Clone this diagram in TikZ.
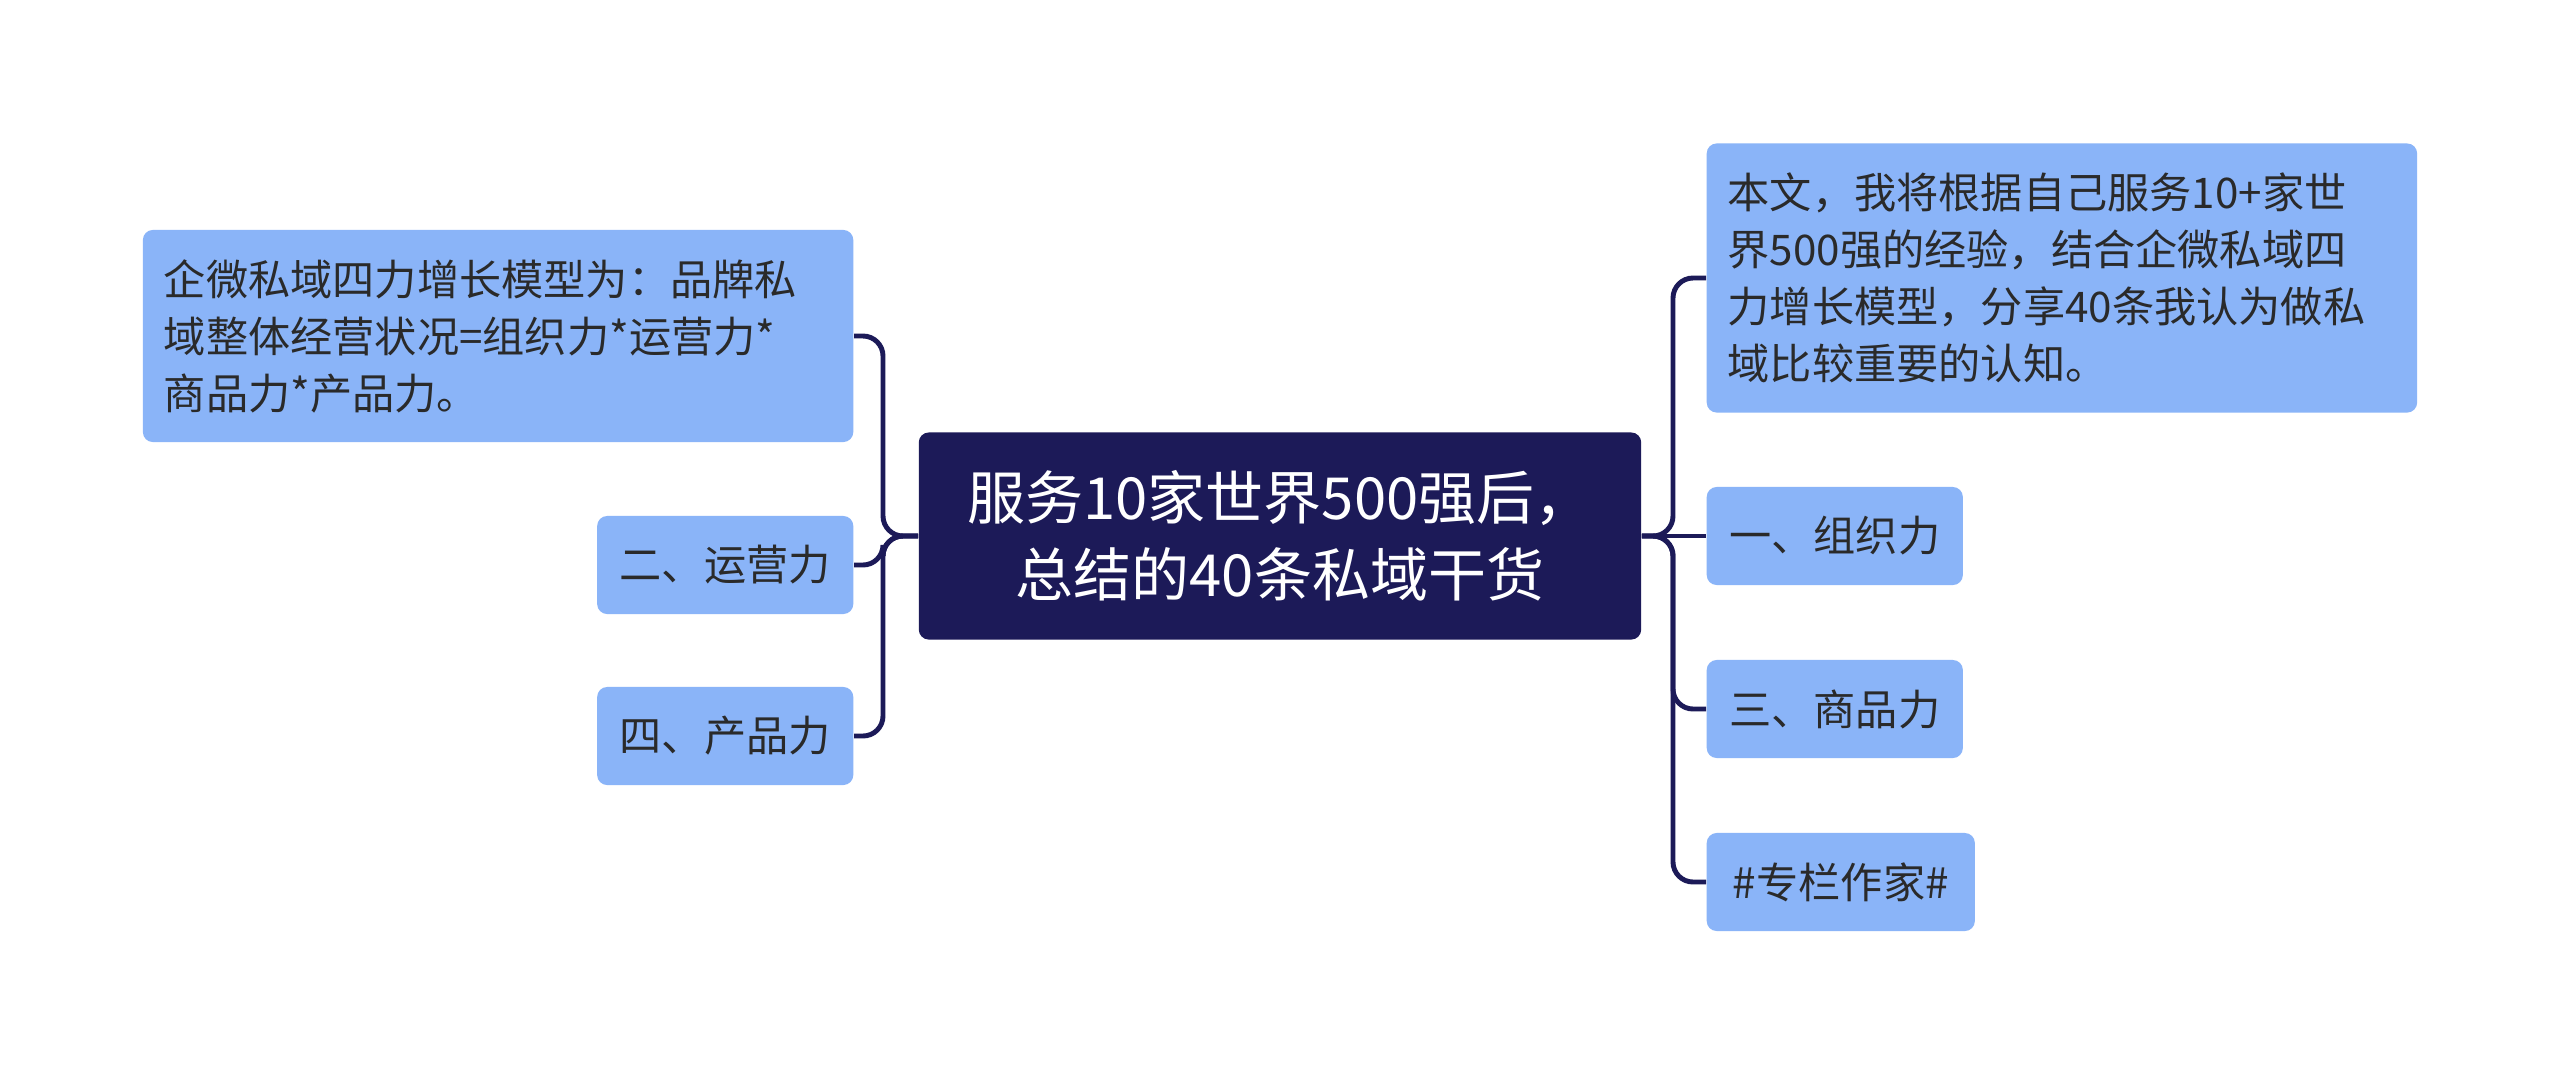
\documentclass[tikz,border=0pt]{standalone}
\usepackage{fontspec}
\setmainfont{Noto Sans CJK SC}
\definecolor{rootblue}{HTML}{1C1A58}
\definecolor{leafblue}{HTML}{8AB4F8}
\definecolor{inkgray}{HTML}{2A2A2A}
\tikzset{
  topic/.style={fill=rootblue, text=white, rounded corners=0.1cm, minimum width=7.22cm, minimum height=2.07cm, align=center, font=\fontsize{16.5}{21.9}\selectfont},
  leaf/.style={fill=leafblue, text=inkgray, rounded corners=0.1cm, inner xsep=0.21cm, minimum height=0.98cm, font=\fontsize{12}{16.2}\selectfont},
  note/.style={leaf, text width=6.68cm, align=left},
  link/.style={draw=rootblue, line width=1.4pt, rounded corners=0.2cm}
}
\begin{document}
\begin{tikzpicture}[x=0.01cm,y=-0.01cm]
\fill[white] (0,0) rectangle (2560,1075);
% centre
\node[topic] (root) at (1280,536) {服务10家世界500强后，\\ 总结的40条私域干货};
% left side
\node[note, anchor=east, minimum height=2.12cm] (plan) at (854,336) {企微私域四力增长模型为：品牌私\\域整体经营状况=组织力*运营力*\\商品力*产品力。};
\node[leaf, anchor=east, minimum width=2.56cm] (ops) at (854,565) {二、运营力};
\node[leaf, anchor=east, minimum width=2.56cm] (prod) at (854,736) {四、产品力};
% right side
\node[note, anchor=west, minimum height=2.69cm] (intro) at (1706,278) {本文，我将根据自己服务10+家世\\界500强的经验，结合企微私域四\\力增长模型，分享40条我认为做私\\域比较重要的认知。};
\node[leaf, anchor=west, minimum width=2.56cm] (org) at (1706,536) {一、组织力};
\node[leaf, anchor=west, minimum width=2.56cm] (goods) at (1706,709) {三、商品力};
\node[leaf, anchor=west, minimum width=2.68cm] (col) at (1706,882) {\#专栏作家\#};
% spines
\coordinate (ls) at (883,536);
\coordinate (rs) at (1673,536);
\draw[link] (root.west) -- (ls) |- (plan.east);
\draw[link] (root.west) -- (ls) |- (ops.east);
\draw[link] (root.west) -- (ls) |- (prod.east);
\draw[link] (root.east) -- (rs) |- (intro.west);
\draw[link] (root.east) -- (org.west);
\draw[link] (root.east) -- (rs) |- (goods.west);
\draw[link] (root.east) -- (rs) |- (col.west);
\end{tikzpicture}
\end{document}
